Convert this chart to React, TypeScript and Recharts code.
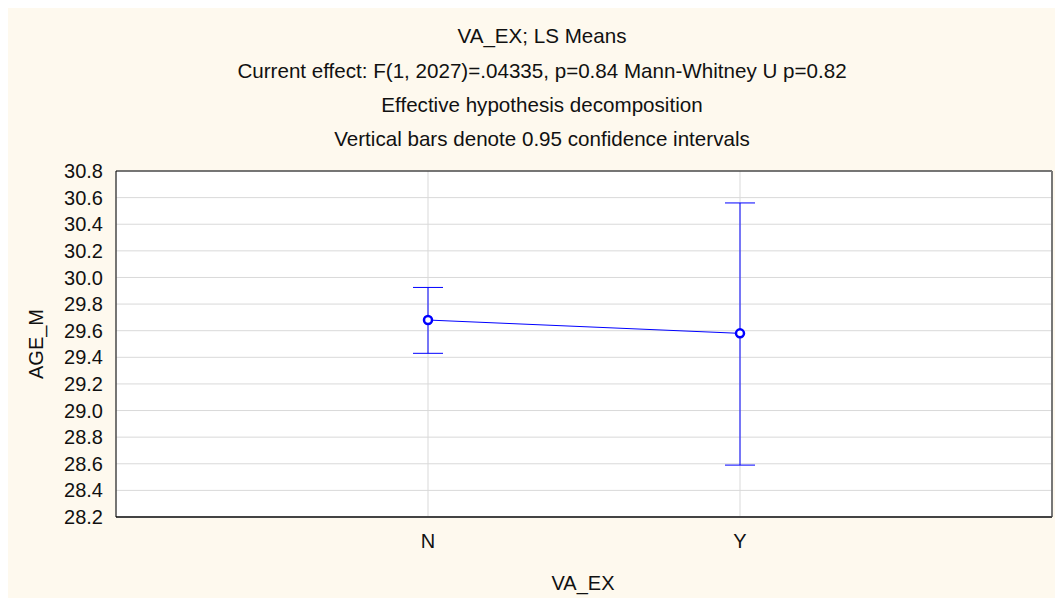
import {
  LineChart,
  Line,
  XAxis,
  YAxis,
  CartesianGrid,
  ErrorBar,
  ReferenceLine,
} from "recharts";

const categories = ["N", "Y"];
const means = [29.68, 29.58];
const ciLower = [29.43, 28.59];
const ciUpper = [29.925, 30.56];
const yTicks = [28.2, 28.4, 28.6, 28.8, 29.0, 29.2, 29.4, 29.6, 29.8, 30.0, 30.2, 30.4, 30.6, 30.8];
const titleLines = [
  "VA_EX; LS Means",
  "Current effect: F(1, 2027)=.04335, p=0.84 Mann-Whitney U p=0.82",
  "Effective hypothesis decomposition",
  "Vertical bars denote 0.95 confidence intervals",
];

// x positions 1..n on a 0..n+1 axis, error bar as [below, above] deltas
const data = categories.map((c, i) => ({
  x: i + 1,
  label: c,
  mean: means[i],
  ci: [means[i] - ciLower[i], ciUpper[i] - means[i]],
}));

const FONT = "'Liberation Sans', Arial, sans-serif";
const BLUE = "#0000ff";
const tickStyle = { fontSize: 20, fill: "#111", fontFamily: FONT };

export default function App() {
  return (
    <div
      style={{
        position: "relative",
        width: 1055,
        height: 598,
        marginBottom: -8,
        background: "#fef9ee",
        fontFamily: FONT,
        color: "#111",
        fontSize: 20,
      }}
    >
      <div
        style={{
          position: "absolute",
          left: 534,
          top: 11.3,
          transform: "translateX(-50%)",
          textAlign: "center",
          fontSize: 20.6,
          lineHeight: "34.3px",
          whiteSpace: "nowrap",
        }}
      >
        {titleLines.map((t) => (
          <div key={t}>{t}</div>
        ))}
      </div>

      <LineChart
        width={1055}
        height={598}
        data={data}
        margin={{ top: 163, right: 11, bottom: 59, left: 0 }}
      >
        <CartesianGrid stroke="#d9d9d9" fill="#ffffff" />
        <XAxis
          dataKey="x"
          type="number"
          domain={[0, categories.length + 1]}
          ticks={data.map((d) => d.x)}
          tickFormatter={(v: number) => categories[v - 1] ?? ""}
          height={30}
          tickLine={false}
          tickSize={0}
          tickMargin={17}
          axisLine={{ stroke: "#444", strokeWidth: 2 }}
          tick={tickStyle}
        />
        <YAxis
          domain={[28.2, 30.8]}
          ticks={yTicks}
          tickFormatter={(v: number) => v.toFixed(1)}
          width={108}
          tickLine={false}
          tickSize={0}
          tickMargin={13}
          axisLine={{ stroke: "#000" }}
          tick={tickStyle}
          interval={0}
        />
        <ReferenceLine y={30.8} stroke="#000" />
        <ReferenceLine x={categories.length + 1} stroke="#777" strokeWidth={2} />
        <Line
          dataKey="mean"
          stroke={BLUE}
          strokeWidth={1}
          dot={{ r: 4, stroke: BLUE, strokeWidth: 2.5, fill: "#fff" }}
          activeDot={false}
          isAnimationActive={false}
        >
          <ErrorBar
            dataKey="ci"
            direction="y"
            width={15}
            stroke={BLUE}
            strokeWidth={1}
            isAnimationActive={false}
          />
        </Line>
      </LineChart>

      <div
        style={{
          position: "absolute",
          left: 27.8,
          top: 336,
          transform: "translate(-50%, -50%) rotate(-90deg)",
          lineHeight: "20px",
          whiteSpace: "nowrap",
        }}
      >
        AGE_M
      </div>
      <div
        style={{
          position: "absolute",
          left: 575,
          top: 575,
          transform: "translate(-50%, -50%)",
          lineHeight: "20px",
          whiteSpace: "nowrap",
        }}
      >
        VA_EX
      </div>
    </div>
  );
}
